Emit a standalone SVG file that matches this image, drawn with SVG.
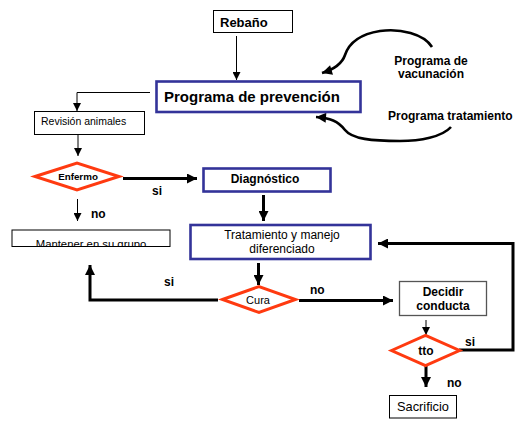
<svg xmlns="http://www.w3.org/2000/svg" width="526" height="429" viewBox="0 0 526 429">
<style>
  text { font-family: "Liberation Sans", Arial, sans-serif; fill: #000; }
  .b { font-weight: bold; }
  .box { fill: #fff; stroke: #000; stroke-width: 1; }
  .blue { fill: #fff; stroke: #333399; stroke-width: 2.6; }
  .gray { fill: #fff; stroke: #555; stroke-width: 1.3; }
  .dia { fill: #fff; stroke: #FF3A10; stroke-width: 3; stroke-linejoin: miter; }
  .thin { fill: none; stroke: #000; stroke-width: 1; }
  .thick { fill: none; stroke: #000; stroke-width: 3; }
  .curve { fill: none; stroke: #000; stroke-width: 2.6; }
</style>
<defs>
  <marker id="ah" viewBox="0 0 10 10" refX="10" refY="5" markerWidth="8" markerHeight="8" markerUnits="userSpaceOnUse" orient="auto">
    <path d="M0,0 L10,5 L0,10 z" fill="#000"/>
  </marker>
  <marker id="ahb" viewBox="0 0 10 10" refX="10" refY="5" markerWidth="11" markerHeight="10" markerUnits="userSpaceOnUse" orient="auto">
    <path d="M0,0 L10,5 L0,10 z" fill="#000"/>
  </marker>
  <clipPath id="clipMant"><rect x="12" y="230" width="158" height="16"/></clipPath>
</defs>

<g id="connectors">
  <path class="thin" d="M236.5,36 V80" marker-end="url(#ah)"/>
  <path class="thin" d="M150,92.5 H77 V111" marker-end="url(#ah)"/>
  <path class="thin" d="M78,135 V156" marker-end="url(#ah)"/>
  <path class="thick" d="M123,178.5 H197" marker-end="url(#ahb)"/>
  <path class="thin" d="M77.5,199 V221" marker-end="url(#ah)"/>
  <path class="thick" d="M263.5,195 V221" marker-end="url(#ahb)"/>
  <path class="thick" d="M258.5,263 V285" marker-end="url(#ahb)"/>
  <path class="thick" d="M218,300 H90 V265" marker-end="url(#ahb)"/>
  <path class="thick" d="M299,300.5 H393" marker-end="url(#ahb)"/>
  <path class="thin" d="M426,320 V335" marker-end="url(#ah)"/>
  <path class="thick" d="M459,350 H513 V243.5 H378" marker-end="url(#ahb)"/>
  <path class="thick" d="M426,366 V387" marker-end="url(#ahb)"/>
  <path class="curve" d="M432,47 C424,34 400,28 380,31 C355,35 348,46 345,55 C342,64 335,69 322,73" marker-end="url(#ahb)"/>
  <path class="curve" d="M451,127 C442,137 420,141 400,141 C372,141 352,139 345,130 C338,121 330,118 316,117" marker-end="url(#ahb)"/>
</g>

<g id="rebano">
  <rect class="box" x="213.5" y="10.5" width="79" height="22"/>
  <text class="b" x="220" y="27" font-size="13">Rebaño</text>
</g>

<g id="prevencion">
  <rect class="blue" x="156.5" y="81.5" width="204" height="30.5"/>
  <text class="b" x="164" y="102" font-size="15">Programa de prevención</text>
</g>

<g id="vacunacion">
  <text class="b" x="431" y="65" font-size="12" text-anchor="middle">Programa de</text>
  <text class="b" x="431" y="78" font-size="12" text-anchor="middle">vacunación</text>
</g>

<g id="tratamiento-prog">
  <text class="b" x="388" y="120" font-size="12">Programa tratamiento</text>
</g>

<g id="revision">
  <rect class="box" x="34.5" y="111.5" width="110" height="23"/>
  <text x="41" y="125" font-size="10.5">Revisión animales</text>
</g>

<g id="enfermo">
  <polygon class="dia" points="35,176.5 77,163 119,176.5 77,190"/>
  <text class="b" x="78" y="180" font-size="9.8" text-anchor="middle">Enfermo</text>
</g>

<g id="diagnostico">
  <rect class="blue" x="203.5" y="168.5" width="127" height="23"/>
  <text class="b" x="265" y="183" font-size="12" text-anchor="middle">Diagnóstico</text>
</g>

<g id="mantener">
  <rect class="box" x="12" y="230" width="158" height="16.5"/>
  <text x="91" y="247.5" font-size="11.3" text-anchor="middle" clip-path="url(#clipMant)">Mantener en su grupo</text>
  <path d="M12,246.5 H170" stroke="#000" stroke-width="1"/>
</g>

<g id="tratamiento">
  <rect class="blue" x="190.5" y="225" width="180" height="34"/>
  <text x="282" y="239" font-size="12" text-anchor="middle">Tratamiento y manejo</text>
  <text x="282" y="253" font-size="12" text-anchor="middle">diferenciado</text>
</g>

<g id="cura">
  <polygon class="dia" points="222.5,299.5 259,286.5 295.5,299.5 259,312.5"/>
  <text x="258" y="303.5" font-size="11" text-anchor="middle">Cura</text>
</g>

<g id="decidir">
  <rect class="gray" x="399.5" y="281.5" width="87" height="34"/>
  <text class="b" x="443" y="296" font-size="12" text-anchor="middle">Decidir</text>
  <text class="b" x="443" y="310" font-size="12" text-anchor="middle">conducta</text>
</g>

<g id="tto">
  <polygon class="dia" points="391.5,350.5 425.5,335.5 459.5,350.5 425.5,365.5"/>
  <text class="b" x="426" y="355" font-size="12" text-anchor="middle">tto</text>
</g>

<g id="sacrificio">
  <rect class="box" x="389.5" y="395.5" width="67" height="22.5"/>
  <text x="423" y="411" font-size="12.8" text-anchor="middle">Sacrificio</text>
</g>

<g id="labels">
  <text class="b" x="152" y="195" font-size="12">si</text>
  <text class="b" x="91" y="218" font-size="12">no</text>
  <text class="b" x="164" y="286" font-size="12">si</text>
  <text class="b" x="310" y="294" font-size="12">no</text>
  <text class="b" x="465" y="346" font-size="12">si</text>
  <text class="b" x="447" y="387" font-size="12">no</text>
</g>
</svg>
